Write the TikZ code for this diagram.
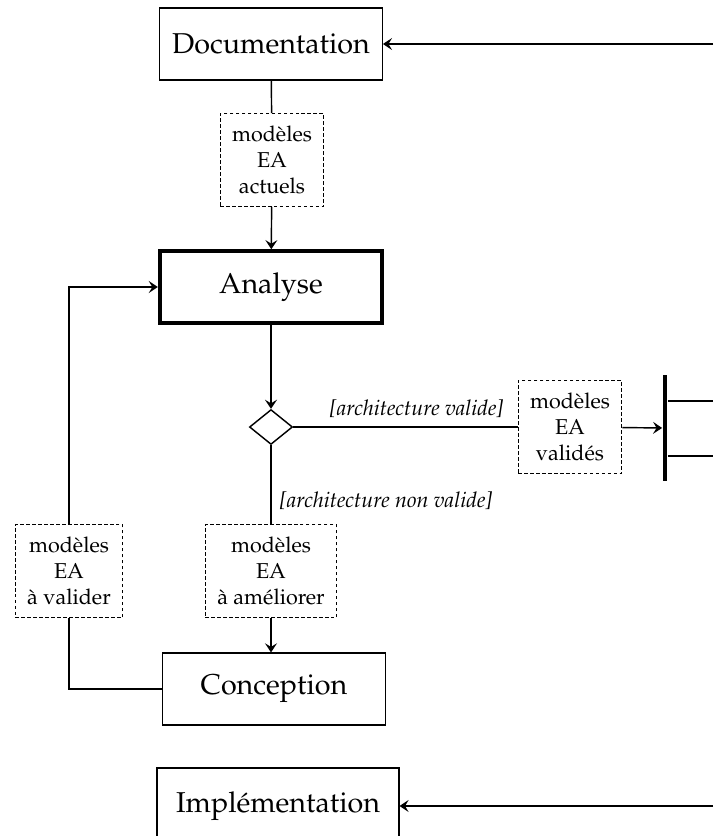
\documentclass[tikz,border=0pt]{standalone}
\IfFileExists{mathpazo.sty}{\usepackage[T1]{fontenc}\usepackage{mathpazo}}{\usepackage{fontspec}\setmainfont{Liberation Serif}}
\usepackage{tikz}
\usetikzlibrary{arrows.meta,shapes.geometric}

\begin{document}
\begin{tikzpicture}[x=0.0147cm,y=-0.0147cm,
    >={Stealth[length=3.8pt,width=5pt,inset=1.5pt]},
    etape/.style={shape=rectangle,draw=black,semithick,minimum width=93pt,minimum height=30pt,font=\large},
    objet/.style={shape=rectangle,draw=black,thin,dash pattern=on 1.5pt off 1pt,align=center,inner sep=5pt,font=\small},
    garde/.style={font=\small\itshape},
    trait/.style={semithick}]
    \useasboundingbox (0,0) rectangle (713,836);
    \node[etape] (doc) at (271,44) {Documentation};
    \node[etape,line width=1.6pt] (ana) at (271,287) {Analyse};
    \node[etape] (conc) at (274,689) {Conception};
    \node[etape,minimum width=101pt,minimum height=31.7pt] (impl) at (278,806) {Implémentation};
    \node[objet] (act) at (272,160) {modèles\\EA\\actuels};
    \node[shape=diamond,draw=black,semithick,minimum width=18pt,minimum height=14.6pt,inner sep=0pt] (dec) at (271,427) {};
    \node[objet] (val) at (570,427) {modèles\\EA\\validés};
    \node[shape=rectangle,fill=black,minimum width=2pt,minimum height=44pt,inner sep=0pt] (barre) at (665,428) {};
    \node[objet] (amel) at (271,571) {modèles\\EA\\à améliorer};
    \node[objet] (avld) at (69,571) {modèles\\EA\\à valider};%
    \coordinate (docin) at (713,44);
    \coordinate (implin) at (713,806);
    \coordinate (out1) at (713,401);
    \coordinate (out2) at (713,456);
    \draw [trait,->](docin) -- (doc);
    \draw [trait](doc) -- (act);
    \draw [trait,->](act) -- (ana);
    \draw [trait,->](ana) -- (dec);
    \draw [trait](dec) -- node[garde,above,pos=0.55] {[architecture valide]} (val);
    \draw [trait,->](val) -- (barre);
    \draw [trait](barre.east |- out1) -- (out1);
    \draw [trait](barre.east |- out2) -- (out2);
    \draw [trait](dec) -- node[garde,right,pos=0.7] {[architecture non valide]} (amel);
    \draw [trait,->](amel.south) -- (amel.south |- conc.north);
    \draw [trait](conc.west) -| (avld.south);
    \draw [trait,->](avld.north) |- (ana.west);
    \draw [trait,->](implin) -- (impl);
\end{tikzpicture}
\end{document}
